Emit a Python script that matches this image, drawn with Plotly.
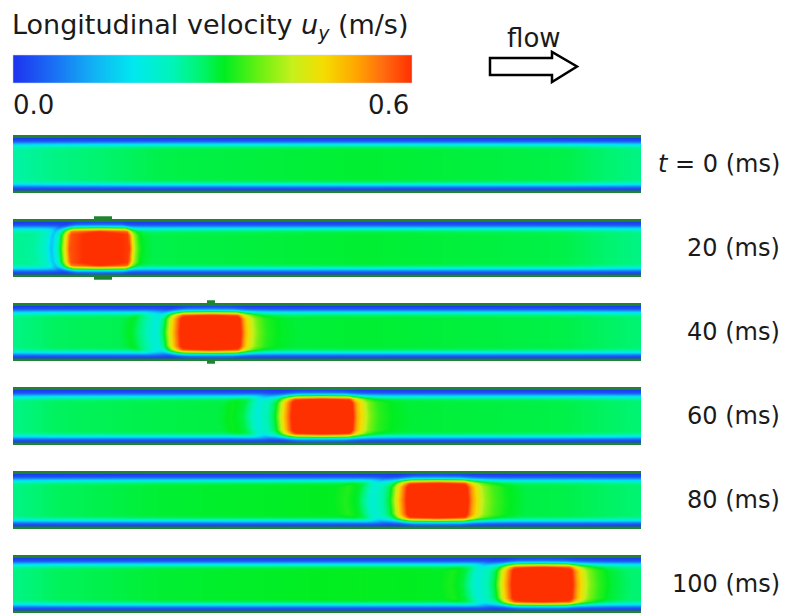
import numpy as np
import plotly.graph_objects as go

# ---------------- data ----------------
time_labels = ["<i>t</i> = 0 (ms)", "20 (ms)", "40 (ms)", "60 (ms)", "80 (ms)", "100 (ms)"]
tube_length = 628                       # axial extent of each strip (arbitrary units)
pulse_center = [None, 86, 197, 309, 424, 529]   # axial position of the high-velocity bolus
probe_center = [None, 90, 198, None, None, None]
probe_width = [None, 18, 8, None, None, None]

# background centre-line velocity (m/s) at axial knots
bg_x = [0, 40, 150, 350, 550, 628]
bg_u = [
    [0.25, 0.27, 0.30, 0.31, 0.30, 0.27],
    [0.26, 0.27, 0.30, 0.31, 0.30, 0.27],
    [0.27, 0.29, 0.30, 0.31, 0.30, 0.28],
    [0.27, 0.29, 0.30, 0.31, 0.30, 0.28],
    [0.26, 0.28, 0.30, 0.31, 0.30, 0.28],
    [0.26, 0.28, 0.30, 0.31, 0.30, 0.28],
]

# bolus excess velocity (m/s) relative to its centre
pulse_offset = [-105, -92, -80, -66, -55, -48, -42, -36, -30, 0, 30, 35, 41, 48, 57, 70, 90]
pulse_excess = [
    None,
    [0, 0, 0, -0.01, -0.04, -0.13, -0.04, 0.14, 0.30, 0.35, 0.30, 0.12, 0.03, 0.01, 0, 0, 0],
    [0, 0, 0.02, -0.05, -0.10, -0.02, 0.12, 0.22, 0.31, 0.35, 0.31, 0.20, 0.13, 0.07, 0.03, 0.01, 0],
    [0, 0.02, 0, -0.10, -0.06, 0.00, 0.12, 0.22, 0.31, 0.35, 0.31, 0.20, 0.14, 0.07, 0.03, 0.01, 0],
    [0.01, 0.025, 0, -0.10, -0.06, 0.00, 0.12, 0.22, 0.31, 0.35, 0.31, 0.22, 0.15, 0.09, 0.05, 0.02, 0],
    [0.01, 0.025, 0, -0.10, -0.06, 0.00, 0.12, 0.22, 0.31, 0.35, 0.31, 0.22, 0.15, 0.09, 0.05, 0.02, 0],
]

# radial structure (|r| normalised to tube radius)
radial_r = [0, 0.55, 0.65, 0.72, 0.79, 0.85, 0.91, 1.0]
radial_factor = [1, 1, 0.95, 0.8, 0.55, 0.3, 0.12, 0.04]
stretch_r = [0, 0.5, 0.7, 0.8, 0.9, 1.0]
stretch_val = [1.0, 1.03, 1.1, 1.18, 1.3, 1.45]

u_min, u_max = 0.0, 0.6
colorscale = [[0, '#1e32f0'], [0.1, '#1a6ef5'], [0.2, '#12b0f4'], [0.3, '#00e8f0'],
              [0.4, '#00f4b8'], [0.47, '#00f470'], [0.53, '#00ee20'], [0.62, '#6cf012'],
              [0.7, '#c6f01c'], [0.78, '#f5dc00'], [0.86, '#ffa600'], [0.93, '#ff6a10'],
              [1.0, '#ff3000']]

# ---------------- geometry helpers ----------------
W, H = 790, 614
def PX(x): return x / W
def PY(y): return 1 - y / H

wall_color = '#1f8430'
text_color = '#1a1a1a'
FONT = "DejaVu Sans"

x_grid = np.arange(0, tube_length + 1, 2.0)
r_grid = np.linspace(-1, 1, 53)
R = np.abs(r_grid)[:, None]
rad = np.interp(R, radial_r, radial_factor)
stretch = np.interp(R, stretch_r, stretch_val)

fig = go.Figure()
layout_axes = {}
shapes = []
annotations = []

strip_top0 = 135
strip_step = 84
strip_h = 58
pad = 3
unit_px = 26.4                               # interior half-height in px = 1 unit
half_units = (strip_h / 2) / unit_px         # outer wall edge
tab_units = (strip_h / 2 + pad) / unit_px

for i in range(6):
    n = '' if i == 0 else str(i + 1)
    bg = np.interp(x_grid, bg_x, bg_u[i])[None, :]
    field = np.repeat(bg, len(r_grid), axis=0)
    if pulse_center[i] is not None:
        off = (x_grid[None, :] - pulse_center[i]) * stretch
        field = field + np.interp(off, pulse_offset, pulse_excess[i])
    z = rad * field
    fig.add_trace(go.Heatmap(x=x_grid, y=r_grid, z=z, coloraxis='coloraxis', zsmooth='best',
                             xaxis='x' + n, yaxis='y' + n, hoverinfo='skip'))
    center = strip_top0 + strip_step * i + strip_h / 2
    top = center - strip_h / 2 - pad
    bot = min(center + strip_h / 2 + pad, H)
    layout_axes['xaxis' + n] = dict(domain=[PX(13), PX(641)], range=[0, tube_length], visible=False,
                                    anchor='y' + n, fixedrange=True)
    layout_axes['yaxis' + n] = dict(domain=[PY(bot), PY(top)],
                                    range=[-(bot - center) / unit_px, (center - top) / unit_px],
                                    visible=False, anchor='x' + n, fixedrange=True)
    for s in (1, -1):
        shapes.append(dict(type='rect', xref='x' + n, yref='y' + n, x0=0, x1=tube_length,
                           y0=s * 1.0, y1=s * half_units, fillcolor=wall_color, line_width=0, layer='above'))
    if probe_center[i] is not None:
        for s in (1, -1):
            shapes.append(dict(type='rect', xref='x' + n, yref='y' + n,
                               x0=probe_center[i] - probe_width[i] / 2, x1=probe_center[i] + probe_width[i] / 2,
                               y0=s * half_units, y1=s * (tab_units - 0.01), fillcolor=wall_color, line_width=0,
                               layer='above'))
    annotations.append(dict(text=time_labels[i], xref='paper', yref='paper', x=PX(782),
                            y=PY(center), xanchor='right', yanchor='middle',
                            showarrow=False, font=dict(family=FONT, size=24, color=text_color)))

# title and colour-bar labels
annotations.append(dict(text="Longitudinal velocity <i>u</i><sub><i>y</i></sub> (m/s)", xref='paper', yref='paper',
                        x=PX(10), y=PY(26), xanchor='left', yanchor='middle', showarrow=False,
                        font=dict(family=FONT, size=27, color=text_color)))
annotations.append(dict(text="0.0", xref='paper', yref='paper', x=PX(11), y=PY(105), xanchor='left',
                        yanchor='middle', showarrow=False, font=dict(family=FONT, size=26, color=text_color)))
annotations.append(dict(text="0.6", xref='paper', yref='paper', x=PX(411), y=PY(105), xanchor='right',
                        yanchor='middle', showarrow=False, font=dict(family=FONT, size=26, color=text_color)))
annotations.append(dict(text="flow", xref='paper', yref='paper', x=PX(534), y=PY(38), xanchor='center',
                        yanchor='middle', showarrow=False, font=dict(family=FONT, size=26, color=text_color)))

# hollow flow arrow
pts = [(490, 58), (552, 58), (552, 52), (577, 66.5), (552, 82), (552, 75), (490, 75)]
path = "M " + " L ".join(f"{PX(a):.5f},{PY(b):.5f}" for a, b in pts) + " Z"
shapes.append(dict(type='path', xref='paper', yref='paper', path=path, fillcolor='white',
                   line=dict(color='black', width=2.5)))

fig.update_layout(
    width=W, height=H, margin=dict(l=0, r=0, t=0, b=0),
    paper_bgcolor='white', plot_bgcolor='white', showlegend=False,
    coloraxis=dict(colorscale=colorscale, cmin=u_min, cmax=u_max,
                   colorbar=dict(orientation='h', x=PX(212.5), xanchor='center', y=PY(55), yanchor='top',
                                 len=399, lenmode='pixels', thickness=28, thicknessmode='pixels',
                                 xpad=0, ypad=0, outlinewidth=0.5, outlinecolor='#c8d8f0',
                                 showticklabels=False, ticks='')),
    shapes=shapes, annotations=annotations,
    **layout_axes,
)

fig.write_html("out.html")
